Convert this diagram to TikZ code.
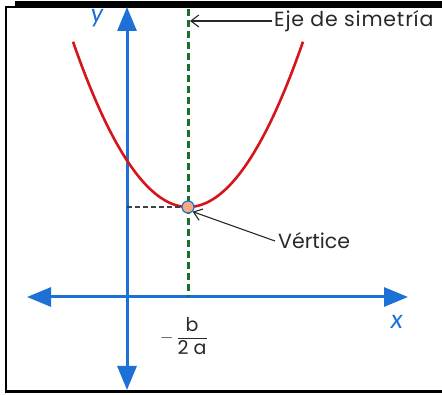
\documentclass[tikz,border=0pt]{standalone}
\usepackage{fontspec}
\setmainfont{Poppins}
\newfontfamily\labfont{Lato}
\usetikzlibrary{arrows.meta}
\definecolor{axblue}{RGB}{28,112,214}
\definecolor{parred}{RGB}{212,22,28}
\definecolor{symgreen}{RGB}{26,112,40}
\definecolor{txtgray}{RGB}{40,40,40}
\definecolor{vfill}{RGB}{246,170,130}
\tikzset{
  axis/.style={draw=axblue,line width=3pt,{Triangle[length=24pt,width=19pt]}-{Triangle[length=24pt,width=19pt]}},
  labelarrow/.style={draw=txtgray,line width=1.1pt,-{Straight Barb[length=8pt,width=12pt,line width=1.1pt]}},
  txt/.style={text=txtgray,font=\fontsize{20.5}{22}\selectfont,inner sep=0pt},
  axlab/.style={text=axblue,font=\labfont\itshape\fontsize{26}{28}\selectfont,inner sep=0pt}
}
\begin{document}
\begin{tikzpicture}[x=1pt,y=-1pt]
\useasboundingbox (0,0) rectangle (442,395);
% frame
\fill[black] (15,1) rectangle (442,8.5);
\fill[black] (4.8,6.5) rectangle (15,8.5);
\fill[black] (4.8,6.5) rectangle (6.5,393);
\fill[black] (4.8,390) rectangle (442,393.5);
% coordinates
\coordinate (ytop) at (127,7);
\coordinate (ybot) at (127,390);
\coordinate (xl) at (27,297);
\coordinate (xr) at (408,297);
\coordinate (stop) at (188,9);
\coordinate (sbot) at (188,297);
\coordinate (yv) at (127,207);
% axes
\draw[axis] (ybot) -- (ytop);
\draw[axis] (xl) -- (xr);
% symmetry axis
\draw[symgreen,line width=3pt,dash pattern=on 7pt off 4pt] (stop) -- (sbot);
% parabola
\draw[parred,line width=2.6pt] plot[domain=-1.15:1.15,samples=80] ({188+100*\x},{207-125*\x*\x});
% dashed to vertex
\draw[black!75,line width=1.3pt,dash pattern=on 5pt off 3pt] (yv) -- (182,207);
% vertex
\node[circle,draw=axblue,line width=1.2pt,fill=vfill,minimum size=12pt,inner sep=0pt] (v) at (188,207) {};
% labels
\node[txt,anchor=west,font=\fontsize{20.5}{22}\selectfont\addfontfeature{LetterSpace=4}] (eje) at (274,21) {Eje de simetría};
\node[txt,anchor=west] (vert) at (278,241) {Vértice};
\draw[labelarrow] (eje.west) ++(-2,0) coordinate (ejes) -- (190,21);
\draw[labelarrow] (vert.west) ++(-3,0) coordinate (verts) -- (v.south east);
\node[axlab] (ylab) at (97,18) {y};
\node[axlab] (xlab) at (397,322) {x};
% fraction
\node[txt,font=\fontsize{19}{21}\selectfont] (frac) at (184,336) {$-\,\displaystyle\frac{\mbox{b}}{\mbox{2 a}}$};
\end{tikzpicture}
\end{document}
